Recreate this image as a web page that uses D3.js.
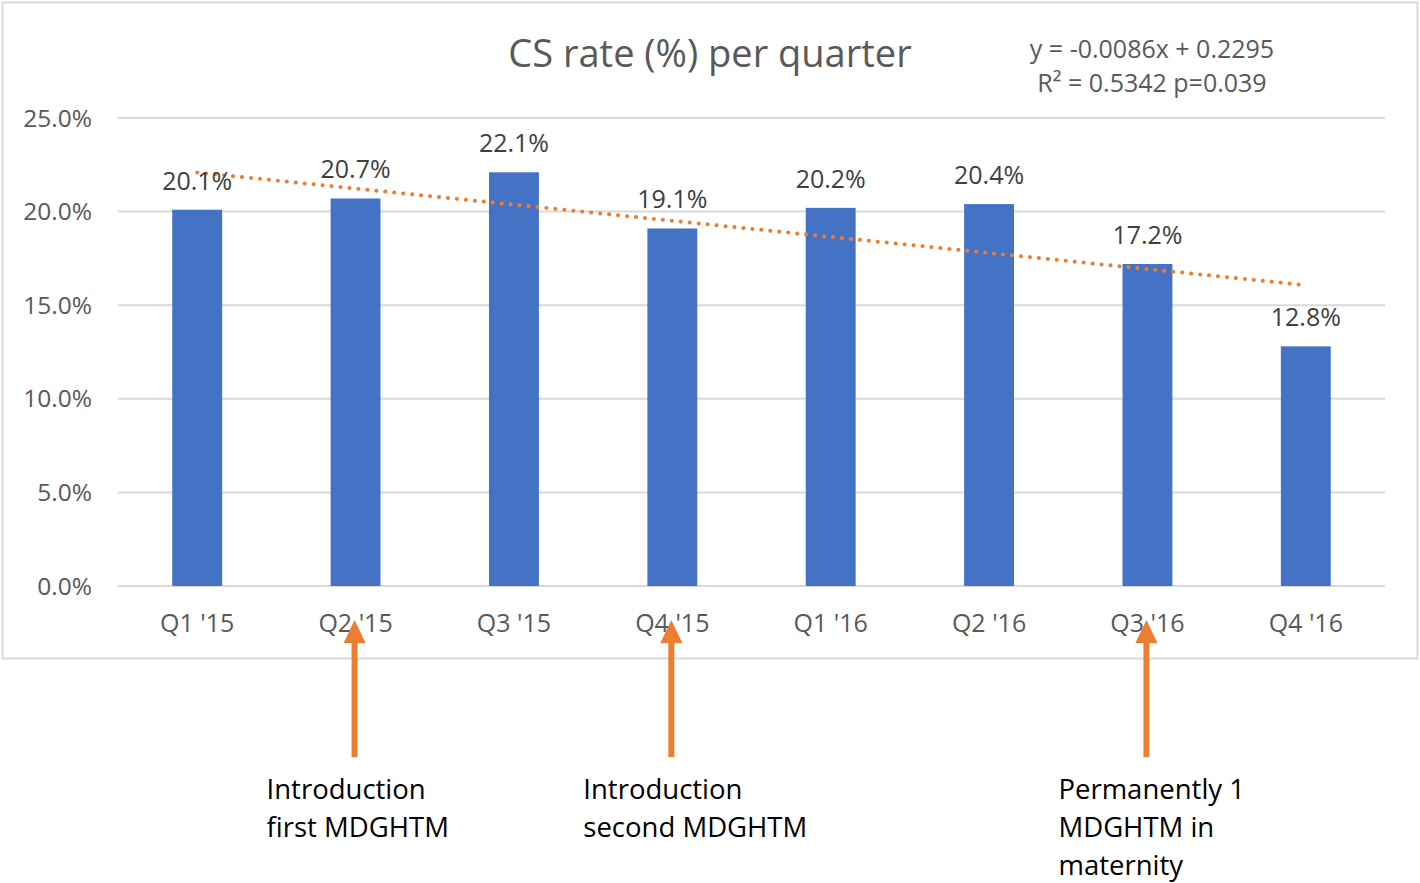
<!DOCTYPE html>
<html><head><meta charset="utf-8">
<script src="https://cdn.jsdelivr.net/npm/d3@7"></script>
<style>body{margin:0;background:#fff}svg{display:block}text{font-family:"Open Sans","Liberation Sans",sans-serif}</style>
</head><body><svg id="c" width="1420" height="883"></svg>
<script>
const categories = ["Q1 '15","Q2 '15","Q3 '15","Q4 '15","Q1 '16","Q2 '16","Q3 '16","Q4 '16"];
const values = [0.201,0.207,0.221,0.191,0.202,0.204,0.172,0.128];
const yTicks = [0,0.05,0.10,0.15,0.20,0.25];
const trendSlope = -0.0086, trendIntercept = 0.2295;
const equationLines = ["y = -0.0086x + 0.2295","R² = 0.5342 p=0.039"];
const annotations = [
  {cat:"Q2 '15", lines:["Introduction","first MDGHTM"]},
  {cat:"Q4 '15", lines:["Introduction","second MDGHTM"]},
  {cat:"Q3 '16", lines:["Permanently 1","MDGHTM in","maternity"]}
];

const svg = d3.select("#c");
const x = d3.scaleBand().domain(categories).range([118,1385]).paddingInner(0.685).paddingOuter(0.3425);
const y = d3.scaleLinear().domain([0,0.25]).range([586,118]);

// chart border
svg.append("rect").attr("x",2.5).attr("y",2.5).attr("width",1415).attr("height",656)
  .attr("fill","#fff").attr("stroke","#D9D9D9").attr("stroke-width",2);

// gridlines
svg.append("g").selectAll("line").data(yTicks).join("line")
  .attr("x1",118).attr("x2",1385).attr("y1",d=>y(d)).attr("y2",d=>y(d))
  .attr("stroke","#D9D9D9").attr("stroke-width",2);

// y tick labels
svg.append("g").selectAll("text").data(yTicks).join("text")
  .attr("x",92).attr("y",d=>y(d)).attr("dy","0.35em").attr("text-anchor","end")
  .attr("font-size",24.5).attr("fill","#595959").text(d3.format(".1%"));

// bars
svg.append("g").selectAll("rect").data(values).join("rect")
  .attr("x",(d,i)=>x(categories[i])).attr("width",x.bandwidth())
  .attr("y",d=>y(d)).attr("height",d=>y(0)-y(d)).attr("fill","#4472C4");

// x labels
svg.append("g").selectAll("text").data(categories).join("text")
  .attr("x",d=>x(d)+x.bandwidth()/2).attr("y",632).attr("text-anchor","middle")
  .attr("font-size",25).attr("fill","#595959").text(d=>d);

// trendline
const xc = i => x(categories[i-1])+x.bandwidth()/2;
svg.append("line").attr("x1",xc(1)).attr("x2",xc(8))
  .attr("y1",y(trendIntercept+trendSlope*1)).attr("y2",y(trendIntercept+trendSlope*8))
  .attr("stroke","#ED7D31").attr("stroke-width",4).attr("stroke-linecap","round")
  .attr("stroke-dasharray","0.1 8.9");

// data labels
svg.append("g").selectAll("text").data(values).join("text")
  .attr("x",(d,i)=>x(categories[i])+x.bandwidth()/2).attr("y",d=>y(d)-20)
  .attr("text-anchor","middle").attr("font-size",25).attr("fill","#404040")
  .text(d3.format(".1%"));

// title
svg.append("text").attr("x",710).attr("y",67).attr("text-anchor","middle")
  .attr("font-size",38).attr("fill","#595959").text("CS rate (%) per quarter");

// equation
svg.append("g").selectAll("text").data(equationLines).join("text")
  .attr("x",1152).attr("y",(d,i)=>58+i*34).attr("text-anchor","middle")
  .attr("font-size",25).attr("fill","#595959").text(d=>d);

// arrows + annotation texts
const ag = svg.append("g");
annotations.forEach(a=>{
  const cx = x(a.cat)+x.bandwidth()/2 - 1;
  ag.append("rect").attr("x",cx-3).attr("y",638).attr("width",6).attr("height",119).attr("fill","#ED7D31");
  ag.append("path").attr("d",`M${cx},620 L${cx+11},643 L${cx-11},643 Z`).attr("fill","#ED7D31");
  const t = ag.append("text").attr("x",cx-88).attr("font-size",27.5).attr("fill","#000");
  a.lines.forEach((l,i)=>t.append("tspan").attr("x",cx-88).attr("y",799+i*38).text(l));
});
</script></body></html>
